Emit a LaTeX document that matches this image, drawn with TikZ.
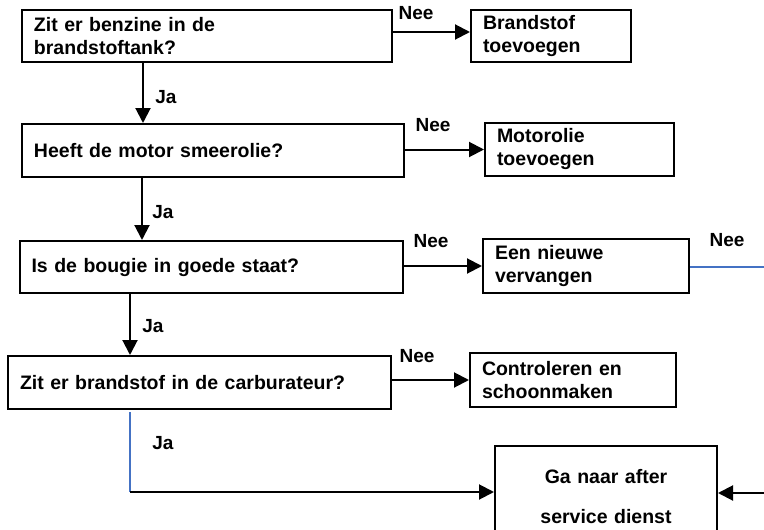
\documentclass[tikz,border=0pt]{standalone}
\usepackage{fontspec}
\setmainfont{Liberation Sans}
\usepackage{tikz}
\usetikzlibrary{positioning, arrows.meta}

\definecolor{lijnblauw}{RGB}{68,114,196}
\tikzset{
  vak/.style={draw, line width=2pt, rectangle, inner xsep=12pt, inner ysep=0pt,
    align=left, font=\fontsize{19.5}{23}\selectfont\bfseries},
  tekst/.style={inner sep=0pt, font=\fontsize{19}{23}\selectfont\bfseries},
  pijl/.style={line width=2pt, -{Triangle[length=15pt,width=15pt]}},
  blauw/.style={line width=1.6pt, color=lijnblauw}
}

\begin{document}
\begin{tikzpicture}[x=1pt, y=-1pt]
  \clip (0,0) rectangle (764,530);
  \useasboundingbox (0,0) rectangle (764,530);
  % vragen links, acties rechts
  \node[vak, text width=346pt, minimum height=52pt] (q1) at (207,36) {Zit er benzine in de\\brandstoftank?};
  \node[vak, text width=136pt, minimum height=52pt] (a1) at (551,36) {Brandstof\\toevoegen};
  \node[vak, text width=358pt, minimum height=53pt] (q2) at (213,150.5) {Heeft de motor smeerolie?};
  \node[vak, text width=165pt, minimum height=53pt] (a2) at (579.5,149.5) {Motorolie\\toevoegen};
  \node[vak, text width=359pt, minimum height=52pt] (q3) at (211,267) {Is de bougie in goede staat?};
  \node[vak, text width=182pt, minimum height=54pt] (a3) at (586,266) {Een nieuwe\\vervangen};
  \node[vak, text width=359pt, minimum height=53pt] (q4) at (199.5,382.5) {Zit er brandstof in de carburateur?};
  \node[vak, text width=182pt, minimum height=54pt] (a4) at (573,380) {Controleren en\\schoonmaken};
  \node[vak, align=center, text width=198pt, minimum height=102pt] (dienst) at (606,497) {Ga naar after\\[17pt]service dienst};

  \node[tekst] (ja1) at (166,97) {Ja};
  \node[tekst] (ja2) at (163,212) {Ja};
  \node[tekst] (ja3) at (153,326) {Ja};
  \node[tekst] (ja4) at (163,443) {Ja};
  \node[tekst] (nee1) at (416,13) {Nee};
  \node[tekst] (nee2) at (433,125) {Nee};
  \node[tekst] (nee3) at (431,241) {Nee};
  \node[tekst] (nee4) at (417,356) {Nee};
  \node[tekst] (nee5) at (727,240) {Nee};

  \coordinate (d1) at (143,0);
  \coordinate (d2) at (142,0);
  \coordinate (d3) at (130,0);
  \coordinate (c1) at (130,492);
  \coordinate (r1) at (764,493);
  \coordinate (r2) at (764,267);

  \draw[pijl] (q1.south -| d1) -- (q2.north -| d1);
  \draw[pijl] (q2.south -| d2) -- (q3.north -| d2);
  \draw[pijl] (q3.south -| d3) -- (q4.north -| d3);
  \draw[pijl] ([yshift=4pt]q1.east) -- ([yshift=4pt]q1.east -| a1.west);
  \draw[pijl] (q2.east |- a2.west) -- (a2.west);
  \draw[pijl] (q3.east |- a3.west) -- (a3.west);
  \draw[pijl] (q4.east |- a4.west) -- (a4.west);
  \draw[blauw] (a3.east |- r2) -- (r2);
  \draw[blauw] ([yshift=-2pt]q4.south -| d3) -- (c1);
  \draw[pijl] (c1) -- (dienst.west |- c1);
  \draw[pijl] (r1) -- (dienst.east |- r1);
\end{tikzpicture}
\end{document}
